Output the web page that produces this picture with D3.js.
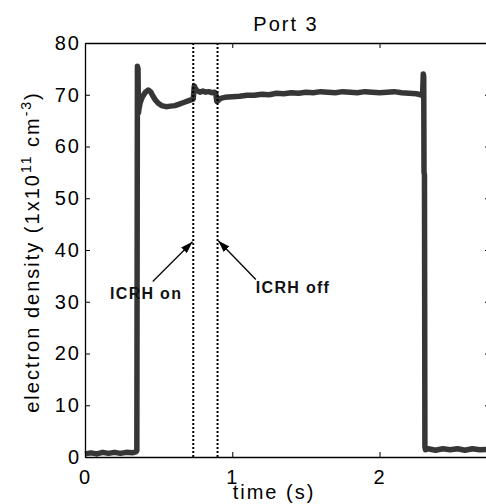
<!DOCTYPE html>
<html>
<head>
<meta charset="utf-8">
<script src="https://cdn.jsdelivr.net/npm/d3@7"></script>
<style>
  body { margin: 0; background: white; }
  text { font-family: "Liberation Sans", Arial, Helvetica, sans-serif; }
</style>
</head>
<body>
<div id="chart"></div>
<script>
// density trace (time in s, density in 1e11 cm^-3)
var times = [0, 0.04, 0.08, 0.12, 0.16, 0.2, 0.24, 0.28, 0.32, 0.345,
  0.352, 0.356, 0.36, 0.363, 0.368, 0.375, 0.39, 0.41, 0.43, 0.445, 0.46, 0.48,
  0.5, 0.52, 0.55, 0.58, 0.61, 0.64, 0.67, 0.7, 0.72, 0.735, 0.742, 0.748,
  0.76, 0.78, 0.8, 0.82, 0.84, 0.86, 0.88, 0.888, 0.895, 0.905, 0.92,
  0.95, 1.0, 1.05, 1.1, 1.15, 1.2, 1.25, 1.3, 1.35, 1.4, 1.45, 1.5, 1.55,
  1.6, 1.65, 1.7, 1.75, 1.8, 1.85, 1.9, 1.95, 2.0, 2.05, 2.1, 2.15, 2.2,
  2.25, 2.28, 2.292, 2.297, 2.3, 2.302, 2.305, 2.308, 2.312, 2.33, 2.38,
  2.43, 2.48, 2.53, 2.58, 2.63, 2.68, 2.75];
var density = [0.6, 0.8, 0.6, 0.9, 0.7, 0.9, 0.7, 0.9, 0.8, 1.0,
  1.2, 75.5, 75, 66.5, 67.5, 68.5, 69.6, 70.5, 70.9, 70.6, 69.8, 68.9,
  68.3, 67.9, 67.7, 67.8, 67.9, 68.2, 68.5, 68.8, 69.0, 69.2, 71.7, 71.3,
  70.8, 70.5, 70.7, 70.5, 70.6, 70.4, 70.5, 70.2, 68.7, 68.9, 69.3,
  69.5, 69.6, 69.7, 69.9, 69.9, 70.1, 70.0, 70.3, 70.2, 70.4, 70.3, 70.5, 70.4,
  70.6, 70.5, 70.4, 70.6, 70.5, 70.4, 70.6, 70.5, 70.4, 70.5, 70.6, 70.4, 70.3,
  70.2, 70.0, 69.8, 74.0, 73.5, 55.0, 54.5, 2.0, 1.4, 1.6, 1.3,
  1.6, 1.4, 1.6, 1.3, 1.6, 1.4, 1.5];

var xTicks = [0, 1, 2];
var yTicks = [0, 10, 20, 30, 40, 50, 60, 70, 80];
var markerTimes = [0.735, 0.9];

var noteLabels = ["ICRH on", "ICRH off"];
var noteTextAt = [[0.17, 30.6], [1.16, 31.6]];
var noteFrom = [[0.46, 33.9], [1.16, 34.3]];
var noteTo = [[0.73, 41.6], [0.905, 41.8]];

var W = 486, H = 504;
var mLeft = 85, mTop = 43, mRight = 490, mBottom = 457;

var x = d3.scaleLinear().domain([0, 2.75]).range([mLeft, mRight]);
var y = d3.scaleLinear().domain([0, 80]).range([mBottom, mTop]);

var svg = d3.select("#chart").append("svg")
  .attr("width", W)
  .attr("height", H);

svg.append("defs").append("marker")
  .attr("id", "head")
  .attr("viewBox", "0 0 12 8")
  .attr("refX", 12).attr("refY", 4)
  .attr("markerWidth", 12).attr("markerHeight", 8)
  .attr("markerUnits", "userSpaceOnUse")
  .attr("orient", "auto")
  .append("path")
  .attr("d", "M0,0L12,4L0,8Z")
  .attr("fill", "black");

// trace
var pts = times.map(function (t, i) { return [t, density[i]]; });
svg.append("path")
  .datum(pts)
  .attr("fill", "none")
  .attr("stroke", "#363636")
  .attr("stroke-width", 5.5)
  .attr("stroke-linejoin", "round")
  .attr("d", d3.line().x(function (d) { return x(d[0]); }).y(function (d) { return y(d[1]); }));

// ICRH on/off lines
svg.selectAll(".vmark")
  .data(markerTimes)
  .enter().append("line")
  .attr("x1", function (d) { return x(d); })
  .attr("x2", function (d) { return x(d); })
  .attr("y1", y(80)).attr("y2", y(0))
  .attr("stroke", "black")
  .attr("stroke-width", 2)
  .attr("stroke-dasharray", "2,2");

// axes, box style with inward ticks
var g = svg.append("g").attr("class", "axes");
g.append("g")
  .attr("transform", "translate(0," + mBottom + ")")
  .call(d3.axisBottom(x).tickValues(xTicks).tickSizeInner(-5).tickSizeOuter(0).tickPadding(13).tickFormat(d3.format("d")));
g.append("g")
  .attr("transform", "translate(0," + mTop + ")")
  .call(d3.axisTop(x).tickValues(xTicks).tickSizeInner(-5).tickSizeOuter(0).tickFormat(""));
g.append("g")
  .attr("transform", "translate(" + mLeft + ",0)")
  .call(d3.axisLeft(y).tickValues(yTicks).tickSizeInner(-5).tickSizeOuter(0).tickPadding(4));
g.append("g")
  .attr("transform", "translate(" + mRight + ",0)")
  .call(d3.axisRight(y).tickValues(yTicks).tickSizeInner(-5).tickSizeOuter(0).tickFormat(""));

g.selectAll("path.domain").attr("stroke", "black").attr("stroke-width", 1.3);
g.selectAll(".tick line").attr("stroke", "black");
g.selectAll(".tick text")
  .attr("fill", "black")
  .style("font-size", "20px")
  .style("letter-spacing", "2px")
  .style("font-family", "'Liberation Sans', Arial, sans-serif");

// annotations
noteLabels.forEach(function (lab, i) {
  svg.append("line")
    .attr("x1", x(noteFrom[i][0])).attr("y1", y(noteFrom[i][1]))
    .attr("x2", x(noteTo[i][0])).attr("y2", y(noteTo[i][1]))
    .attr("stroke", "black")
    .attr("stroke-width", 1.3)
    .attr("marker-end", "url(#head)");
  svg.append("text")
    .attr("x", x(noteTextAt[i][0]))
    .attr("y", y(noteTextAt[i][1]))
    .style("font-size", "16px")
    .style("font-weight", "bold")
    .style("letter-spacing", "1.3px")
    .attr("fill", "#111")
    .text(lab);
});

// titles
svg.append("text")
  .attr("x", 286).attr("y", 31)
  .attr("text-anchor", "middle")
  .style("font-size", "20px")
  .style("letter-spacing", "2px")
  .text("Port 3");

svg.append("text")
  .attr("x", 274).attr("y", 499)
  .attr("text-anchor", "middle")
  .style("font-size", "20px")
  .style("letter-spacing", "2px")
  .text("time (s)");

var yl = svg.append("text")
  .attr("transform", "translate(39,252) rotate(-90)")
  .attr("text-anchor", "middle")
  .style("font-size", "20px")
  .style("letter-spacing", "2px");
yl.append("tspan").text("electron density (1x10");
yl.append("tspan").attr("dy", -8).style("font-size", "14px").text("11");
yl.append("tspan").attr("dy", 8).text(" cm");
yl.append("tspan").attr("dy", -8).style("font-size", "14px").text("-3");
yl.append("tspan").attr("dy", 8).text(")");
</script>
</body>
</html>
